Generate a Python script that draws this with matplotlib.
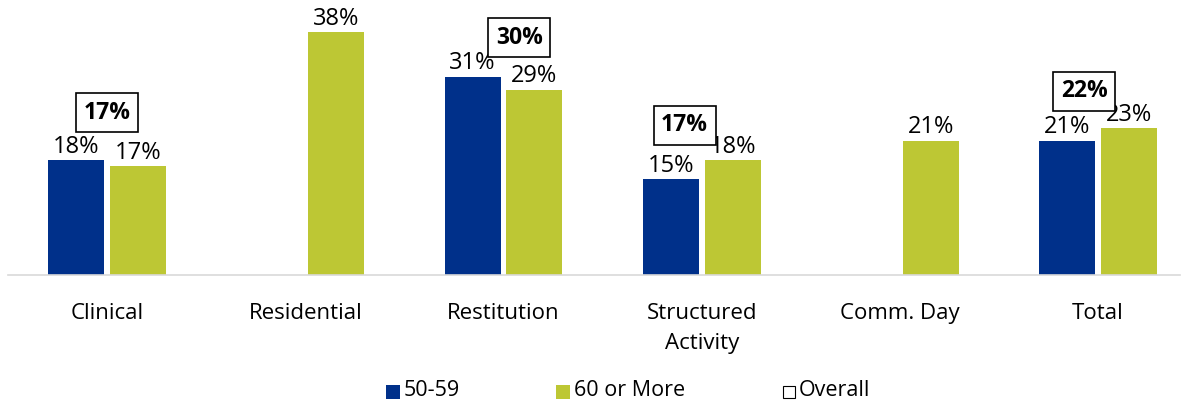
import matplotlib.pyplot as plt
from matplotlib.patches import Rectangle
import numpy as np

# Data
categories = ["Clinical", "Residential", "Restitution", "Structured\nActivity", "Comm. Day", "Total"]
age_50_59 = [18, None, 31, 15, None, 21]
age_60_plus = [17, 38, 29, 18, 21, 23]
overall = [17, None, 30, 17, None, 22]

# Manual placement of the boxed "Overall" labels (x offset, y in %)
overall_pos = [(0.0, 25.4), None, (0.08, 37.1), (-0.086, 23.4), None, (-0.07, 28.7)]

navy = "#00308A"
olive = "#BDC734"

plt.rcParams["font.family"] = ["Open Sans", "DejaVu Sans"]

W, H = 1189, 404
fig = plt.figure(figsize=(W / 100, H / 100), dpi=100)
ax = fig.add_axes([8 / W, 129 / H, 1172 / W, 275 / H])

x = np.arange(len(categories))
offset = 0.156
width = 0.283

for i in range(len(categories)):
    if age_50_59[i] is not None:
        ax.bar(x[i] - offset, age_50_59[i], width, color=navy)
        ax.text(x[i] - offset, age_50_59[i] + 0.2, f"{age_50_59[i]}%",
                ha="center", va="bottom", fontsize=17)
    if age_60_plus[i] is not None:
        ax.bar(x[i] + offset, age_60_plus[i], width, color=olive)
        ax.text(x[i] + offset, age_60_plus[i] + 0.2, f"{age_60_plus[i]}%",
                ha="center", va="bottom", fontsize=17)
    if overall[i] is not None:
        dx, yy = overall_pos[i]
        ax.text(x[i] + dx, yy, f"{overall[i]}%", ha="center", va="center",
                fontsize=16.5, fontweight="bold",
                bbox=dict(boxstyle="square,pad=0.33", facecolor="white",
                          edgecolor="black", linewidth=1.2))

ax.set_xlim(-0.5, -0.5 + 1172 / 198.2)
ax.set_ylim(0, 43)
ax.set_xticks(x)
ax.set_xticklabels(categories, fontsize=16, linespacing=1.55)
ax.tick_params(axis="x", length=0, pad=20)
ax.set_yticks([])
for s in ["top", "left", "right"]:
    ax.spines[s].set_visible(False)
ax.spines["bottom"].set_color("#d9d9d9")
ax.spines["bottom"].set_linewidth(1.2)

# Legend drawn by hand
def px(xp, yp):
    return xp / W, 1 - yp / H

legend_items = [("50-59", navy, "none", 386, 14), ("60 or More", olive, "none", 556, 14),
                ("Overall", "white", "black", 783, 12)]
for label, fc, ec, lx, sz in legend_items:
    cx, cy = px(lx, 392 + sz / 2)
    fig.patches.append(Rectangle((cx, cy), sz / W, sz / H, transform=fig.transFigure,
                                 facecolor=fc, edgecolor=ec, linewidth=0.8))
    tx, ty = px(lx + sz + 4, 391)
    fig.text(tx, ty, label, ha="left", va="center", fontsize=15.5)

fig.savefig("out.png", dpi=100)
